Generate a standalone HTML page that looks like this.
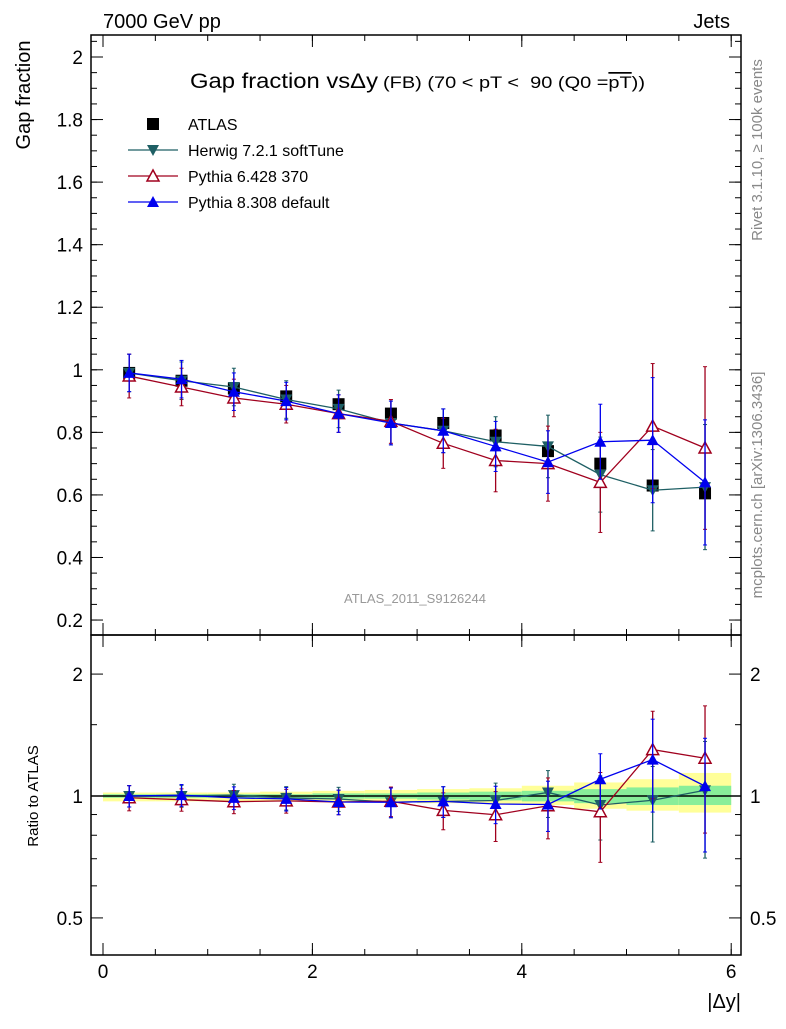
<!DOCTYPE html>
<html><head><meta charset="utf-8"><style>
body{margin:0;background:#fff;width:786px;height:1024px;overflow:hidden}
svg text{font-family:"Liberation Sans",sans-serif}
</style></head><body>
<svg id="c" width="786" height="1024" xmlns="http://www.w3.org/2000/svg">
<text x="103" y="28" font-size="20">7000 GeV pp</text>
<text x="730" y="28" font-size="20" text-anchor="end">Jets</text>
<text x="190" y="88" font-size="21" textLength="188" lengthAdjust="spacingAndGlyphs">Gap fraction vsΔy</text>
<text x="383" y="88" font-size="17" textLength="262" lengthAdjust="spacingAndGlyphs" xml:space="preserve">(FB) (70 &lt; pT &lt;  90 (Q0 =<tspan text-decoration="overline">pT</tspan>))</text>
<text transform="translate(30,95) rotate(-90)" font-size="20" text-anchor="middle">Gap fraction</text>
<text transform="translate(38,796) rotate(-90)" font-size="15" text-anchor="middle">Ratio to ATLAS</text>
<text x="741" y="1008" font-size="20" text-anchor="end">|Δy|</text>
<text transform="translate(762,150) rotate(-90)" font-size="15" fill="#888" text-anchor="middle">Rivet 3.1.10, ≥ 100k events</text>
<text transform="translate(762,485) rotate(-90)" font-size="15" fill="#888" text-anchor="middle">mcplots.cern.ch [arXiv:1306.3436]</text>
<text x="415" y="603" font-size="13" fill="#999" text-anchor="middle">ATLAS_2011_S9126244</text>
<g id="g"></g>
</svg>
<script>
const xs=[0.25,0.75,1.25,1.75,2.25,2.75,3.25,3.75,4.25,4.75,5.25,5.75];
const atlas=[0.99,0.965,0.94,0.915,0.89,0.86,0.83,0.79,0.74,0.70,0.63,0.605];
const herwig=[0.99,0.965,0.945,0.905,0.875,0.83,0.805,0.77,0.755,0.665,0.615,0.625];
const herwigErr=[0.06,0.06,0.06,0.06,0.06,0.07,0.07,0.08,0.1,0.12,0.13,0.2];
const py6=[0.98,0.945,0.91,0.89,0.86,0.835,0.765,0.71,0.70,0.64,0.82,0.75];
const py6Err=[0.07,0.06,0.06,0.06,0.06,0.07,0.08,0.1,0.12,0.16,0.2,0.26];
const py8=[0.99,0.97,0.93,0.90,0.86,0.83,0.805,0.755,0.705,0.77,0.775,0.64];
const py8Err=[0.06,0.06,0.06,0.06,0.06,0.07,0.07,0.08,0.1,0.12,0.2,0.2];
const bandYellowLo=[0.97,0.97,0.97,0.97,0.97,0.965,0.96,0.955,0.95,0.93,0.92,0.91];
const bandYellowHi=[1.02,1.02,1.02,1.025,1.03,1.035,1.04,1.045,1.06,1.08,1.10,1.14];
const bandGreenLo=[0.99,0.99,0.99,0.99,0.985,0.985,0.98,0.975,0.97,0.96,0.95,0.95];
const bandGreenHi=[1.01,1.01,1.01,1.01,1.015,1.015,1.02,1.025,1.03,1.04,1.05,1.06];
const yTicks=[0.2,0.4,0.6,0.8,1,1.2,1.4,1.6,1.8,2];
const xTicks=[0,2,4,6];
const rTicks=[0.5,1,2];
const L=91,R=741,T=35,M=635,B=955;
const X=v=>103+v*104.7;
const Y=v=>57+(2-v)*312.8;
const RY=v=>796-405*Math.log10(v);
const g=document.getElementById('g');
const NS='http://www.w3.org/2000/svg';
function el(t,a,p){const e=document.createElementNS(NS,t);for(const k in a)e.setAttribute(k,a[k]);(p||g).appendChild(e);return e;}
xs.forEach((x,i)=>{
 let r=el('rect',{x:X(x-0.25),y:RY(bandYellowHi[i]),width:104.7/2,height:RY(bandYellowLo[i])-RY(bandYellowHi[i]),fill:'#ffff99'});
 
 
 let q=el('rect',{x:X(x-0.25),y:RY(bandGreenHi[i]),width:104.7/2,height:RY(bandGreenLo[i])-RY(bandGreenHi[i]),fill:'#88ee99'});
 
 
});
el('line',{x1:L,x2:R,y1:RY(1),y2:RY(1),stroke:'#000','stroke-width':1.5});
el('rect',{x:L,y:T,width:R-L,height:M-T,fill:'none',stroke:'#000','stroke-width':1.5});
el('rect',{x:L,y:M,width:R-L,height:B-M,fill:'none',stroke:'#000','stroke-width':1.5});
yTicks.forEach(v=>{const y=Y(v);el('line',{x1:L,x2:L+12,y1:y,y2:y,stroke:'#000'});el('line',{x1:R,x2:R-12,y1:y,y2:y,stroke:'#000'});
 const t=el('text',{x:L-8,y:y+7,'font-size':19,'text-anchor':'end'});t.textContent=v;
 
 });
for(let v=0.2;v<=2.06;v+=0.05){const y=Y(v);el('line',{x1:L,x2:L+6,y1:y,y2:y,stroke:'#000'});el('line',{x1:R,x2:R-6,y1:y,y2:y,stroke:'#000'});}
rTicks.forEach(v=>{const y=RY(v);el('line',{x1:L,x2:L+12,y1:y,y2:y,stroke:'#000'});el('line',{x1:R,x2:R-12,y1:y,y2:y,stroke:'#000'});
 const t=el('text',{x:L-8,y:y+7,'font-size':19,'text-anchor':'end'});t.textContent=v;
 
 
 const t2=el('text',{x:750,y:y+7,'font-size':19});t2.textContent=v;
 
 });
[0.6,0.7,0.8,0.9,1.5,2.5].forEach(v=>{const y=RY(v);if(y>M){el('line',{x1:L,x2:L+6,y1:y,y2:y,stroke:'#000'});el('line',{x1:R,x2:R-6,y1:y,y2:y,stroke:'#000'});}});
xTicks.forEach(v=>{const x=X(v);[[T,12],[M,-12],[M,12],[B,-12]].forEach(([y,d])=>el('line',{x1:x,x2:x,y1:y,y2:y+d,stroke:'#000'}));
 const t=el('text',{x:x,y:B+23,'font-size':19,'text-anchor':'middle'});t.textContent=v;
 
 });
for(let v=0;v<=6.01;v+=0.5){const x=X(v);[[T,6],[M,-6],[M,6],[B,-6]].forEach(([y,d])=>el('line',{x1:x,x2:x,y1:y,y2:y+d,stroke:'#000'}));}
function marker(type,x,y,c,p){
 if(type==='sq')return el('rect',{x:x-6,y:y-6,width:12,height:12,fill:c},p);
 if(type==='down')return el('polygon',{points:`${x-6},${y-5} ${x+6},${y-5} ${x},${y+6}`,fill:c},p);
 if(type==='up')return el('polygon',{points:`${x-6},${y+5} ${x+6},${y+5} ${x},${y-6}`,fill:c},p);
 if(type==='upo')return el('polygon',{points:`${x-6},${y+5} ${x+6},${y+5} ${x},${y-6}`,fill:'#fff',stroke:c,'stroke-width':1.5},p);
}
function series(name,vals,errs,color,type,ratio){
 const F=ratio?RY:Y;
 const v=ratio?vals.map((a,i)=>a/atlas[i]):vals;
 const e=ratio?errs.map((a,i)=>a/atlas[i]):errs;
 const gr=el('g',{});
 
 
 el('polyline',{points:xs.map((x,i)=>X(x)+','+F(v[i])).join(' '),fill:'none',stroke:color,'stroke-width':1.3},gr);
 xs.forEach((x,i)=>{
  el('line',{x1:X(x),x2:X(x),y1:F(v[i]+e[i]),y2:F(Math.max(v[i]-e[i],0.05)),stroke:color,'stroke-width':1.3},gr);
  el('line',{x1:X(x)-2,x2:X(x)+2,y1:F(v[i]+e[i]),y2:F(v[i]+e[i]),stroke:color},gr);
  el('line',{x1:X(x)-2,x2:X(x)+2,y1:F(v[i]-e[i]),y2:F(v[i]-e[i]),stroke:color},gr);
  const m=marker(type,X(x),F(v[i]),color,gr);
  
  
 });
}
xs.forEach((x,i)=>{const m=marker('sq',X(x),Y(atlas[i]),'#000');
 
 });
[false,true].forEach(r=>{
 series('herwig',herwig,herwigErr,'#1e5f64','down',r);
 series('pythia6',py6,py6Err,'#a0001e','upo',r);
 series('pythia8',py8,py8Err,'#0000ee','up',r);
});
const leg=[['ATLAS','sq','#000'],['Herwig 7.2.1 softTune','down','#1e5f64'],['Pythia 6.428 370','upo','#a0001e'],['Pythia 8.308 default','up','#0000ee']];
leg.forEach((l,i)=>{const y=124+i*26;const gr=el('g',{});
 
 
 if(i>0)el('line',{x1:128,x2:178,y1:y,y2:y,stroke:l[2],'stroke-width':1.3},gr);
 marker(l[1],153,y,l[2],gr);
 const t=el('text',{x:188,y:y+6,'font-size':16},gr);t.textContent=l[0];});
</script>
</body></html>
